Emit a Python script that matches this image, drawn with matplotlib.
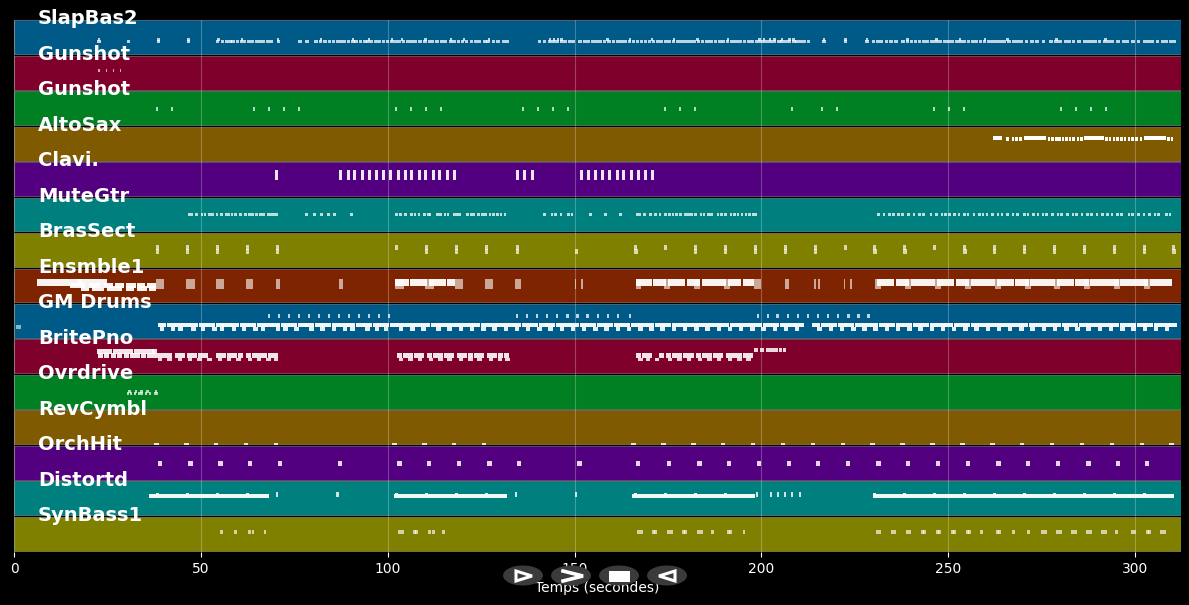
import matplotlib
matplotlib.use("Agg")
import matplotlib.pyplot as plt
from matplotlib.patches import Ellipse, Polygon, Rectangle

track_names = ["SlapBas2", "Gunshot", "Gunshot", "AltoSax", "Clavi.", "MuteGtr", "BrasSect", "Ensmble1",
               "GM Drums", "BritePno", "Ovrdrive", "RevCymbl", "OrchHit", "Distortd", "SynBass1"]
row_colors = ["#005a87", "#7f002b", "#008023", "#805a00", "#52007f", "#007f7f", "#7f7f00", "#7f2400",
              "#005a87", "#7f002b", "#008023", "#805a00", "#52007f", "#007f7f", "#7f7f00"]
x_ticks = [0, 50, 100, 150, 200, 250, 300]

slap_t = [22.2, 30.2, 38.2, 46.2, 54, 55.3, 56.4, 57.3, 58.2, 59.3, 60.4, 61.2, 62.4, 63.4, 64.5, 65.5, 66.3, 67.4, 68.3,
          70.3, 76, 77.9, 80.3, 81.5, 82.8, 84, 85, 86.1, 87, 88, 89.1, 90.2, 91.1, 92.2, 93.4, 94.3, 95.2, 96.4, 97.3,
          98.4, 99.5, 100.6, 101.5, 102.6, 103.7, 105, 106, 107, 108.2, 109.5, 110.7, 111.5, 112.7, 114, 115, 116.3,
          117.3, 118.5, 119.5, 120.6, 122, 123, 124, 125.5, 126.4, 127.8, 129, 130.5, 131.5, 140.2, 141.5, 143, 144,
          145, 146, 147, 148.3, 149.2, 151, 152.2, 153.2, 154.4, 155.5, 156.5, 157.6, 158.8, 160, 161, 162, 163.1,
          164.2, 165.3, 166.4, 167.4, 168.5, 169.6, 170.7, 171.8, 172.8, 174, 175, 176, 177.2, 178.3, 179.4, 180.5,
          181.5, 182.7, 183.8, 185, 186, 187.2, 188.3, 189.3, 190.5, 191.6, 192.7, 193.8, 195, 196.2, 197.2, 198.3,
          199.5, 200.4, 201.3, 202.2, 203, 204.2, 205, 206.1, 207, 208.2, 209, 210, 211, 212.2, 216.3, 222, 227.8,
          229.5, 230.6, 231.6, 233, 234.2, 235.5, 237.5, 238.6, 239.7, 240.8, 241.9, 243, 244, 245.2, 246.3, 247.4,
          248.5, 249.5, 250.5, 251.8, 252.7, 253.8, 255, 256, 257, 258.2, 259.3, 260.4, 261.5, 262.6, 263.7, 264.6,
          265.8, 267, 268, 269, 270.5, 272, 273.3, 275, 277, 278.4, 279.5, 281, 282, 283, 284.5, 286, 287, 288, 289,
          290, 291.5, 292.5, 293.5, 295, 296.5, 297.5, 299, 300.5, 302, 303, 304, 305.5, 307, 308, 309, 310]
slap_hi_t = [22.5, 38.4, 46.4, 54.4, 60.8, 70.3, 81.8, 90.5, 94.6, 100.9, 103.5, 109.8, 116.6, 120.2, 126.8,
             143.2, 144.2, 145.2, 146.2, 158.5, 164.5, 170.5, 176.4, 182.6, 190.8, 199.2, 200.5, 202, 203.2, 205.2,
             207.2, 208.3, 216.5, 222.2, 227.9, 238.8, 246.6, 252.9, 259.5, 265.6, 278.7, 291.8]
gun1_t = [22.5, 24.5, 26.4, 28.3]
gun2_t = [38, 42, 64, 68, 72, 76, 102, 106, 110, 114, 136, 140, 144, 148, 174, 178, 182, 208, 216, 220, 246, 250, 254,
          280, 284, 288, 292]
alto_long_start = [262, 270.3, 286.3, 302.4]
alto_long_dur = [2.4, 5.9, 5.4, 5.9]
alto_small_t = [265.5, 267, 268, 269, 276.6, 277.6, 278.6, 279.4, 280.4, 281.3, 282.2, 283.2, 284.4, 285.4, 292, 293,
                294, 295, 296, 297, 298, 299, 300, 301.2, 308.6, 309.5]
clavi_t = [69.8, 87, 89.1, 90.7, 92.9, 94.7, 96.6, 98.5, 100.3, 102.5, 104.4, 106, 108.1, 109.7, 111.9, 113.5, 115.6,
           117.5, 134.3, 136.2, 138.3, 151.5, 153.3, 155.2, 157.1, 159, 161.1, 162.7, 164.8, 166.7, 168.6, 170.5]
mute_t = [46.5, 47.2, 48.5, 50, 50.8, 52, 52.8, 54, 55.2, 56.4, 57, 58, 59, 60.2, 61.6, 62.6, 63.4, 64.6, 65.6, 66.4,
          67.8, 68.5, 69.4, 70, 77.9, 80, 81.9, 83.8, 85.4, 89.9, 102, 103, 104.5, 106, 107, 108, 109.5, 110.5, 111,
          113, 113.8, 115, 115.8, 117.5, 118.3, 119, 121, 122, 122.7, 124, 125, 125.8, 127, 128, 129, 130, 131, 141.6,
          143.6, 144.5, 146, 148, 149, 153.9, 157.9, 161.9, 166.5, 167.2, 168.4, 170, 171.3, 172.5, 174, 175, 176, 177,
          178, 179.3, 180.2, 181, 182, 183.5, 184.3, 185.5, 186.3, 188, 189, 190, 191.5, 192.5, 193.4, 194.5, 195.5,
          196.5, 197.5, 198.2, 231, 232.5, 234, 235, 236.3, 237.4, 239, 240.5, 242, 243, 245, 246.5, 248, 249, 250,
          251.3, 252.5, 254, 255, 256.6, 258, 259, 260, 261.5, 263, 264, 265.5, 267, 268.2, 270, 271, 272.5, 273.7,
          275, 276, 277.5, 279, 280, 281.5, 283, 284, 285.5, 287, 288, 289.5, 291, 292.3, 293.5, 295, 296, 298, 299,
          300.5, 302, 303.5, 305, 306, 308, 309]
bras_t = [38, 46, 54, 62, 70, 102, 110, 118, 126, 134.3, 166, 174, 182, 190, 198, 206, 214, 222, 230, 238, 246, 254,
          262, 270, 278, 286, 294, 302, 310]
bras_low_t = [38, 46, 54, 62, 70, 110, 118, 126, 134.3, 150, 166, 182, 190, 198, 206, 214, 230, 238, 254, 262, 270, 278,
              286, 294, 302, 310]
ens_square_t = [38, 46, 54, 62, 70, 87, 102, 110, 118, 126, 134, 150, 151.7, 166.5, 174, 182, 190, 198, 206.3, 214,
                215.2, 222, 223.7, 230.4, 238.4, 246.4, 254.4, 262.5, 270.5, 278.4, 286.4, 294.4, 302.4]
ens_square_d = [2.2, 2.4, 2.2, 1.9, 1.2, 1, 2.4, 2.4, 2.2, 2.2, 1.6, 0.5, 0.5, 1.4, 1.6, 1.6, 1.6, 2, 1.1, 0.6, 0.6,
                0.5, 0.5, 1.6, 1.6, 1.6, 1.6, 1.6, 1.6, 1.6, 1.6, 1.6, 1.6]
ens_band_start = [6.2, 17, 102, 106, 111, 116, 166.5, 171, 175, 180, 184, 191, 195, 231, 236, 240, 247, 252, 256, 263,
                  268, 272, 279, 284, 288, 296, 304]
ens_band_dur = [12, 8, 3.6, 4.6, 4.6, 2, 4.2, 3.6, 4.6, 3.6, 6.6, 3.6, 3, 4.6, 3.6, 6.6, 4.6, 3.6, 6.6, 4.6, 3.6, 6.6,
                4.6, 3.6, 7.6, 7.6, 6]
ens_low_start = [15, 20, 24, 27, 30, 33, 35.5]
ens_low_dur = [4, 3, 2.4, 2.4, 2.6, 2, 2.6]
ens_low2_start = [18, 21, 25, 30, 33, 36]
ens_low2_dur = [2, 3, 4, 2, 2.6, 2]
drum_low_left = [0.6]
drum_hi_t = [68, 70.7, 73.3, 76, 78.7, 81.3, 84, 86.7, 89.3, 92, 94.7, 97.3, 100, 134.3, 137, 139.7, 142.4, 145, 147.8,
             150.5, 153.2, 155.9, 158.6, 161.3, 164.6, 198.7, 201.4, 204, 206.8, 209.5, 212.2, 214.9, 217.6, 220.3, 223,
             225.7, 228.4]
drum_band_t = [38.5, 41, 42.7, 45, 47, 49.5, 51.5, 54, 56, 58, 60.5, 62.5, 65, 67, 69, 71.5, 73.5, 76, 78, 80.5, 82.5,
               85, 87, 89, 91.5, 93.5, 96, 98, 100.5, 102.5, 105, 107, 109, 111.5, 113.5, 116, 118, 120.5, 122.5, 125,
               127, 129, 131.5, 133.5, 136, 138, 140.5, 142.5, 145, 147, 149, 151.5, 153.5, 156, 158, 160.5, 162.5, 165,
               167, 169, 171.5, 173.5, 176, 178, 180.5, 182.5, 185, 187, 189, 191.5, 193.5, 196, 198, 200.5, 202.5, 205,
               207, 209, 213.5, 216, 218, 220.5, 222.5, 225, 227, 229, 231.5, 233.5, 236, 238, 240.5, 242.5, 245, 247,
               249, 251.5, 253.5, 256, 258, 260.5, 262.5, 265, 267, 269, 271.5, 273.5, 276, 278, 280.5, 282.5, 285, 287,
               289, 291.5, 293.5, 296, 298, 300.5, 302.5, 305, 307, 309]
drum_under_t = [39, 42, 44, 47.5, 50, 53, 55, 58.3, 61, 64, 66, 70, 72, 75, 79, 82, 85, 88, 90, 94, 96.5, 99, 103, 106,
                109, 113, 116, 119, 122, 125, 128, 131, 134, 137, 140, 143, 146, 149, 152, 155, 158, 161, 164, 167, 170,
                173, 176, 179, 182, 185, 188, 191, 194, 197, 200, 203, 206, 209, 215, 218, 221, 224, 227, 230, 233, 236,
                239, 242, 245, 248, 251, 254, 257, 260, 263, 266, 269, 272, 275, 278, 281, 284, 287, 290, 293, 296, 299,
                302, 305, 308]
brite_up_t = [22.2, 23.6, 25, 26.4, 27.8, 29.2, 30.6, 32, 33.4, 34.8, 36.2, 37]
brite_mid_t = [22.4, 24.2, 26, 27.6, 29.4, 31, 32.4, 34, 35.6, 37, 38.2, 39.6, 41, 43, 44.3, 46.2, 47.6, 49.2, 50.5,
               54.1, 55.4, 57, 58.4, 60, 62.2, 63.6, 65, 66.4, 68, 69.2, 102.5, 104, 105.5, 107, 108.5, 110.5, 112,
               113.5, 115, 116.5, 118.5, 120, 121.5, 123, 124.5, 126.5, 128, 129.5, 131, 166.5, 168, 169.5, 172.5, 174.5,
               176, 177.5, 179, 180.5, 182.5, 184, 185.5, 187, 188.5, 190.5, 192, 193.5, 195, 196.5]
brite_low_t = [38.5, 41, 43.8, 46.5, 49, 51.7, 54.5, 57, 59.5, 62.5, 65, 67.5, 69.5, 103, 105.5, 108, 111, 113.5, 116,
               119, 121.5, 124, 127, 129.5, 131.5, 167, 169, 171.5, 175, 177.5, 180, 183, 185.5, 188, 191, 193.5, 196]
brite_top_t = [198, 199.6, 201.2, 202.3, 203.5, 204.6, 205.7]
ovr_t = [30.2, 31, 32, 33.3, 34, 35, 36, 37.5, 37.9]
ovr_hi_t = [30.6, 32.4, 33.8, 35.4, 37.6]
rev_t = [37.5, 45.5, 53.5, 61.5, 69.5, 101.2, 109.2, 117.2, 125.2, 165.2, 173.2, 181.2, 189.2, 197.2, 205.2, 213.2,
         221.2, 229.2, 237.2, 245.2, 253.2, 261.2, 269.2, 277.2, 285.2, 293.2, 301.2, 309.2]
orch_t = [38.5, 46.6, 54.6, 62.6, 70.6, 86.7, 102.5, 110.5, 118.5, 126.6, 134.6, 150.7, 166.4, 174.7, 182.8, 190.8,
          198.8, 206.8, 214.6, 222.6, 230.7, 238.7, 246.7, 254.7, 262.8, 270.8, 278.8, 286.9, 294.9, 302.6]
dist_start = [36, 40, 43.2, 46.2, 48.4, 52.4, 54.2, 58.2, 60.2, 62.4, 65, 101.7, 105, 107.6, 110, 113, 115.4, 118.2,
              121, 123.6, 126.2, 129, 165.5, 168, 171, 174, 176.5, 179, 182, 185, 187.5, 190, 193, 196, 230, 233, 236.2,
              239, 242, 245, 248, 251, 254, 257, 260, 263, 266, 269, 272, 275, 278, 281, 284, 287, 290, 293, 296, 299,
              302, 305, 308]
dist_dur = [4.0, 3.2, 3.0, 2.2, 4.0, 1.8, 4.0, 2.0, 2.2, 2.6, 3.2, 3.3, 2.6, 2.4, 3.0, 2.4, 2.8, 2.8, 2.6, 2.6, 2.8, 3, 2.5,
            3.0, 3.0, 2.5, 2.5, 3.0, 3.0, 2.5, 2.5, 3.0, 3.0, 2.2, 3.0, 3.2, 2.8, 3.0, 3.0, 3.0, 3.0, 3.0, 3.0, 3.0,
            3.0, 3.0, 3.0, 3.0, 3.0, 3.0, 3.0, 3.0, 3.0, 3.0, 3.0, 3.0, 3.0, 3.0, 3.0, 3.0, 2.4]
dist_bump_t = [38, 46, 54, 62, 102, 110, 118, 126, 166, 174, 182, 190, 230, 238, 246, 254, 262, 270, 278, 286, 294, 302]
dist_single_t = [70, 86.3, 134, 150, 198.5, 202.3, 204.2, 206.1, 208, 210]
syn_t = [55.2, 59, 62.6, 63.6, 66.8, 102.8, 103.6, 106.8, 107.4, 110.8, 111.8, 114.5, 166.7, 167.5, 170.7, 171.3, 174.7,
         175.5, 178.7, 179.3, 182.8, 183.7, 186.5, 190.8, 191.4, 195, 230.7, 231.4, 234.7, 235.4, 238.7, 239.4, 242.7,
         243.3, 246.7, 247.4, 250.7, 251.3, 254.7, 255.4, 258.5, 262.8, 263.4, 267, 271.1, 274.8, 275.6, 278.8, 279.6,
         282.8, 283.6, 286.9, 287.7, 290.9, 291.7, 294.6, 298.9, 299.6, 302.9, 303.6, 306.7, 307.5]

XMAX = 312.3
fig = plt.figure(figsize=(11.89, 6.05), dpi=100, facecolor="black")
ax = fig.add_axes([14 / 1189, 1 - 552 / 605, 1167 / 1189, 532 / 605], facecolor="black")
ax.set_xlim(0, XMAX)
ax.set_ylim(15, 0)

for i, c in enumerate(row_colors):
    ax.barh(i + 0.485, XMAX, left=0, height=0.955, color=c, edgecolor=(1, 1, 1, 0.32), linewidth=0.6, zorder=1)


def notes(row, starts, pitch, dur, height=0.07, alpha=0.85, z=3):
    # pitch 0..127 maps from the bottom to the top of the track's row
    y = row + 1 - pitch / 127
    widths = dur if isinstance(dur, list) else [dur] * len(starts)
    ax.barh([y] * len(starts), widths, left=starts, height=height, color="white", alpha=alpha, linewidth=0, zorder=z)


notes(0, slap_t, 51, 0.95, 0.09, 0.75)
notes(0, slap_hi_t, 57, 0.6, 0.09, 0.75)
notes(1, gun1_t, 73, 0.45, 0.1, 0.65)
notes(2, gun2_t, 63, 0.5, 0.11, 0.7)
notes(3, alto_long_start, 86, alto_long_dur, 0.12, 1)
notes(3, alto_small_t, 82, 0.7, 0.11, 1)
notes(4, clavi_t, 80, 0.85, 0.27, 0.9)
notes(5, mute_t, 66, 0.7, 0.1, 0.75)
notes(6, bras_t, 73, 0.8, 0.14, 0.7)
notes(6, bras_low_t, 60, 0.9, 0.15, 0.7)
notes(7, ens_square_t, 70, ens_square_d, 0.29, 0.6, 3)
notes(7, ens_band_start, 76, ens_band_dur, 0.17, 0.95, 4)
notes(7, ens_low_start, 66, ens_low_dur, 0.15, 0.95, 4)
notes(7, ens_low2_start, 55, ens_low2_dur, 0.12, 0.95, 4)
notes(8, drum_low_left, 44, 1.2, 0.1, 0.55)
notes(8, drum_hi_t, 84, 0.6, 0.1, 0.75)
notes(8, drum_band_t, 50, 2.3, 0.12, 0.95)
notes(8, drum_under_t, 37, 1.2, 0.1, 0.9)
notes(9, brite_up_t, 82, 1.35, 0.13, 0.9)
notes(9, brite_mid_t, 68, 1.35, 0.13, 0.9)
notes(9, brite_low_t, 54, 1.2, 0.09, 0.85)
notes(9, brite_top_t, 88, 1.0, 0.09, 0.85)
notes(10, ovr_t, 60, 0.6, 0.1, 0.7)
notes(10, ovr_hi_t, 68, 0.6, 0.08, 0.7)
notes(11, rev_t, 5, 1.2, 0.07, 0.85)
notes(12, orch_t, 62, 1.2, 0.13, 0.85)
notes(13, dist_start, 74, dist_dur, 0.12, 0.95)
notes(13, dist_bump_t, 82, 0.8, 0.06, 0.9)
notes(13, dist_single_t, 78, 0.6, 0.14, 0.8)
notes(14, syn_t, 72, 0.75, 0.1, 0.65)

for t in x_ticks:
    ax.axvline(t, color="white", alpha=0.25, linewidth=0.8, zorder=2)

for i, name in enumerate(track_names):
    ax.text(6.4, i - 0.03, name, color="white", fontsize=14, fontweight="bold", va="center", ha="left", zorder=6,
            clip_on=False)

ax.set_xticks(x_ticks)
ax.set_yticks([])
ax.tick_params(axis="x", colors="white", labelsize=10, length=3.5, width=0.8, pad=3.5)
for s in ax.spines.values():
    s.set_visible(False)
ax.set_xlabel("Temps (secondes)", color="white", fontsize=10, labelpad=3.5)

# viewer's playback buttons, in pixel coordinates
ui = fig.add_axes([0, 0, 1, 1], facecolor="none")
ui.set_xlim(0, 1189)
ui.set_ylim(605, 0)
ui.axis("off")
for cx in [523, 571, 619, 667]:
    ui.add_patch(Ellipse((cx, 575.5), 40, 20, color="#3b3b3b", lw=0))
ui.add_patch(Polygon([(516, 571), (516, 581), (532, 576)], closed=True, fc="none", ec="white", lw=2.2))
ui.plot([563, 583, 563], [571, 576, 581], color="white", lw=2.6, solid_joinstyle="miter")
ui.add_patch(Rectangle((608.5, 571), 21.5, 11, fc="white", lw=0))
ui.add_patch(Polygon([(675, 571), (675, 581), (659, 576)], closed=True, fc="none", ec="white", lw=2.2))

fig.savefig("out.png", dpi=100, facecolor="black")
